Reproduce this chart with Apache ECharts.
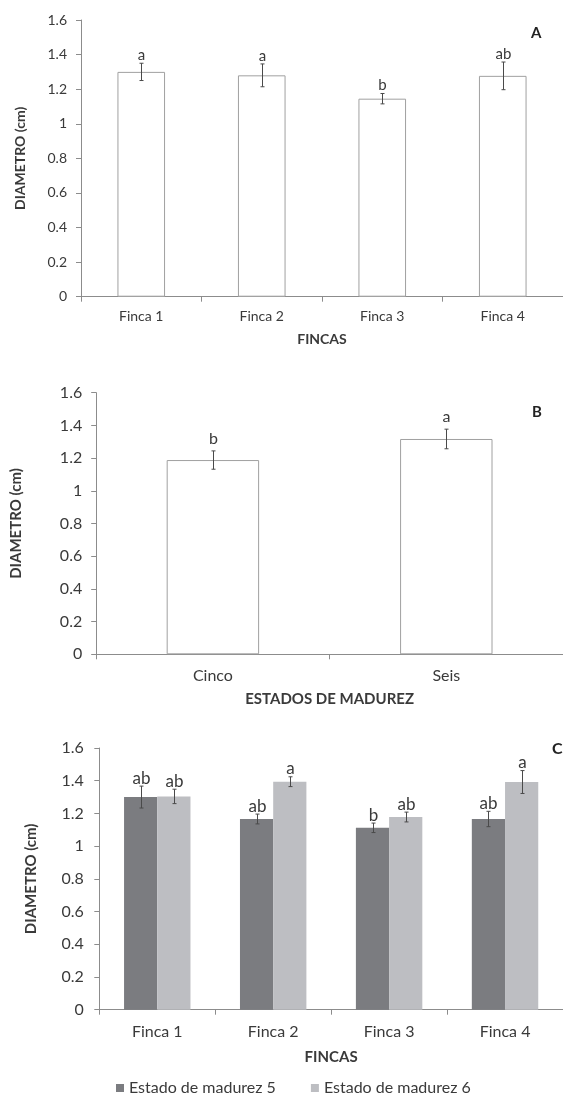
<!DOCTYPE html>
<html><head><meta charset="utf-8">
<script src="https://cdn.jsdelivr.net/npm/echarts@6/dist/echarts.min.js"></script>
<style>html,body{margin:0;padding:0;background:#fff;overflow:hidden}#c{width:563px;height:1094px}</style>
</head><body><div id="c"></div>
<script>
var fincas = ['Finca 1','Finca 2','Finca 3','Finca 4'];
var diamA = [1.30, 1.28, 1.145, 1.277];
var errA = [0.05, 0.066, 0.03, 0.08];
var letA = ['a','a','b','ab'];
var estados = ['Cinco','Seis'];
var diamB = [1.188, 1.317];
var errB = [0.056, 0.06];
var letB = ['b','a'];
var serieNames = ['Estado de madurez 5','Estado de madurez 6'];
var diamC5 = [1.30, 1.166, 1.112, 1.166];
var errC5 = [0.067, 0.03, 0.029, 0.047];
var letC5 = ['ab','ab','b','ab'];
var diamC6 = [1.304, 1.394, 1.178, 1.392];
var errC6 = [0.044, 0.03, 0.03, 0.07];
var letC6 = ['ab','a','ab','a'];
var yTicks = {min:0, max:1.6, interval:0.2};

var FONT = 'Lato';
var TXT = '#3a3a3a';
var AX = '#8c8c8c';

function errData(vals, errs, lets){
  return vals.map(function(v,i){ return [i, v-errs[i], v+errs[i], lets[i]]; });
}
function errSeries(xi, vals, errs, lets, slot, nSlots, gapFrac, fs, lgap){
  return {
    type:'custom', xAxisIndex:xi, yAxisIndex:xi, z:5,
    data: errData(vals, errs, lets),
    encode:{x:0, y:[1,2]},
    renderItem:function(params, api){
      var band = api.size([1,0])[0];
      var off = 0;
      if (nSlots > 1){
        var bw = band*(1-gapFrac)/nSlots;
        off = (slot - (nSlots-1)/2)*bw;
      }
      var lo = api.coord([api.value(0), api.value(1)]);
      var hi = api.coord([api.value(0), api.value(2)]);
      var x = Math.round(lo[0]+off)+0.5;
      var st = {stroke:'#4a4a4a', lineWidth:1};
      var cap = 2;
      return {type:'group', children:[
        {type:'line', shape:{x1:x,y1:lo[1],x2:x,y2:hi[1]}, style:st},
        {type:'line', shape:{x1:x-cap,y1:lo[1],x2:x+cap,y2:lo[1]}, style:st},
        {type:'line', shape:{x1:x-cap,y1:hi[1],x2:x+cap,y2:hi[1]}, style:st},
        {type:'text', x:x, y:hi[1]-lgap, style:{text:api.value(3), align:'center', verticalAlign:'middle', fill:TXT, font:fs+'px '+FONT}}
      ]};
    }
  };
}
function yAx(gi, gap, fs, nfs, margin){
  return {type:'value', gridIndex:gi, min:yTicks.min, max:yTicks.max, interval:yTicks.interval,
    name:'DIAMETRO (cm)', nameLocation:'middle', nameGap:gap,
    nameTextStyle:{fontFamily:FONT, fontWeight:'bold', fontSize:nfs, color:TXT},
    axisLine:{show:true, lineStyle:{color:AX}}, axisTick:{show:true, length:5, lineStyle:{color:AX}},
    splitLine:{show:false},
    axisLabel:{fontFamily:FONT, fontSize:fs, color:TXT, margin:margin}};
}
function xAx(gi, cats, name, gap, fs, nfs, margin){
  return {type:'category', gridIndex:gi, data:cats, name:name, nameLocation:'middle', nameGap:gap,
    nameTextStyle:{fontFamily:FONT, fontWeight:'bold', fontSize:nfs, color:TXT},
    axisLine:{lineStyle:{color:AX}}, axisTick:{show:true, length:5, alignWithLabel:false, lineStyle:{color:AX}},
    axisLabel:{fontFamily:FONT, fontSize:fs, color:TXT, margin:margin, interval:0}};
}
var option = {
  animation:false,
  grid:[
    {left:81, width:491, top:20, height:276.7},
    {left:96.2, width:476.8, top:392.7, height:261.6},
    {left:99.3, width:468, top:748, height:261.7}
  ],
  xAxis:[xAx(0,fincas,'FINCAS',35.5,14,14,13), xAx(1,estados,'ESTADOS DE MADUREZ',37,16,15,13.5), xAx(2,fincas,'FINCAS',40,16,15,14)],
  yAxis:[yAx(0,54,14,14,14), yAx(1,72.5,16,15,14), yAx(2,61,16,15,15.5)],
  legend:{left:111, top:1075, itemWidth:8, itemHeight:8, itemGap:35, icon:'rect',
    data:serieNames, textStyle:{fontFamily:FONT, fontSize:16, color:TXT}},
  graphic:[
    {type:'text', left:531, top:26, style:{text:'A', font:'bold 15px '+FONT, fill:'#222'}},
    {type:'text', left:532, top:405, style:{text:'B', font:'bold 15px '+FONT, fill:'#222'}},
    {type:'text', left:552, top:741, style:{text:'C', font:'bold 16px '+FONT, fill:'#222'}}
  ],
  series:[
    {type:'bar', xAxisIndex:0, yAxisIndex:0, data:diamA, barCategoryGap:'60.5%',
      itemStyle:{color:'#fff', borderColor:'#a0a0a0', borderWidth:1}},
    errSeries(0, diamA, errA, letA, 0, 1, 0, 15, 8),
    {type:'bar', xAxisIndex:1, yAxisIndex:1, data:diamB, barCategoryGap:'60.4%',
      itemStyle:{color:'#fff', borderColor:'#a0a0a0', borderWidth:1}},
    errSeries(1, diamB, errB, letB, 0, 1, 0, 16, 12.5),
    {type:'bar', name:serieNames[0], xAxisIndex:2, yAxisIndex:2, data:diamC5, barCategoryGap:'42.7%', barGap:'0%',
      itemStyle:{color:'#7b7c80'}},
    {type:'bar', name:serieNames[1], xAxisIndex:2, yAxisIndex:2, data:diamC6, barCategoryGap:'42.7%', barGap:'0%',
      itemStyle:{color:'#bdbec2'}},
    errSeries(2, diamC5, errC5, letC5, 0, 2, 0.427, 17, 8),
    errSeries(2, diamC6, errC6, letC6, 1, 2, 0.427, 17, 8)
  ]
};
var chart = echarts.init(document.getElementById('c'), null, {renderer:'canvas'});
chart.setOption(option);
</script></body></html>
